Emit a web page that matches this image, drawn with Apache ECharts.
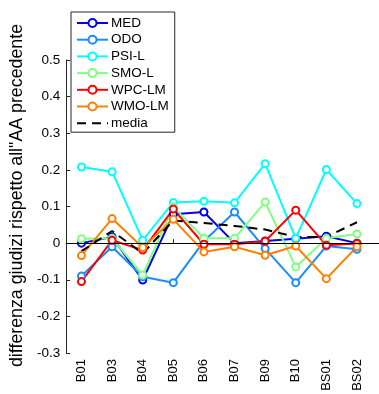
<!DOCTYPE html>
<html>
<head>
<meta charset="utf-8">
<script src="https://cdn.jsdelivr.net/npm/echarts@6/dist/echarts.min.js"></script>
<style>
  html, body { margin: 0; padding: 0; background: #fff; }
  #chart { width: 379px; height: 394px; }
</style>
</head>
<body>
<div id="chart"></div>
<script>
var categories = ['B01', 'B03', 'B04', 'B05', 'B06', 'B07', 'B09', 'B10', 'BS01', 'BS02'];
var seriesNames = ['MED', 'ODO', 'PSI-L', 'SMO-L', 'WPC-LM', 'WMO-LM'];
var MED   = [0.000, 0.017, -0.101, 0.079, 0.085, 0.000, 0.006, 0.012, 0.019, 0.000];
var ODO   = [-0.090, -0.010, -0.092, -0.108, 0.005, 0.085, -0.015, -0.108, -0.008, -0.017];
var PSI_L = [0.208, 0.195, 0.008, 0.111, 0.114, 0.110, 0.217, 0.013, 0.201, 0.108];
var SMO_L = [0.012, 0.013, -0.087, 0.099, 0.013, 0.013, 0.112, -0.065, 0.013, 0.025];
var WPC_LM = [-0.105, 0.008, -0.019, 0.093, -0.003, -0.003, 0.005, 0.090, -0.006, -0.001];
var WMO_LM = [-0.034, 0.067, -0.012, 0.065, -0.024, -0.010, -0.033, -0.008, -0.097, -0.010];
var media = [-0.022, 0.033, -0.028, 0.062, 0.055, 0.047, 0.037, 0.017, 0.017, 0.057];
var colors = ['#0000f0', '#1a8cff', '#00ffff', '#80ff80', '#ff0000', '#ff8000'];
var tickPos = categories.map(function (c, i) { return i + 1; });

var myChart = echarts.init(document.getElementById('chart'));

function pts(arr) {
    return arr.map(function (v, i) { return [i + 1, v]; });
}

var values = [MED, ODO, PSI_L, SMO_L, WPC_LM, WMO_LM];
var series = values.map(function (arr, k) {
    return {
        name: seriesNames[k],
        type: 'line',
        data: pts(arr),
        symbol: 'emptyCircle',
        symbolSize: 7,
        showSymbol: true,
        lineStyle: { width: 2, color: colors[k] },
        itemStyle: { color: colors[k], borderWidth: 1.6 }
    };
});
// linea dello zero
series[0].markLine = {
    silent: true,
    symbol: 'none',
    label: { show: false },
    lineStyle: { color: '#000', width: 1, type: 'solid' },
    data: [{ yAxis: 0 }]
};
series.push({
    name: 'media',
    type: 'line',
    data: pts(media),
    symbol: 'none',
    itemStyle: { color: '#000' },
    lineStyle: { width: 2, color: '#000', type: [9, 6] }
});

var legendData = seriesNames.map(function (n) { return { name: n }; });
legendData.push({ name: 'media', itemStyle: { opacity: 0 } });

var option = {
    animation: false,
    grid: { left: 62, right: 0, top: 60, bottom: 41 },
    legend: {
        orient: 'vertical',
        left: 71,
        top: 12,
        padding: [3, 6, 1, 5],
        itemWidth: 31,
        itemHeight: 10,
        itemGap: 0.7,
        backgroundColor: '#fff',
        borderColor: '#262626',
        borderWidth: 1,
        textStyle: { fontFamily: 'Liberation Sans', fontSize: 13.5, lineHeight: 16, color: '#000', padding: [0, 0, 0, -2] },
        data: legendData
    },
    xAxis: {
        type: 'value',
        min: 0.5,
        max: 10.72,
        splitLine: { show: false },
        axisLine: { show: true, lineStyle: { color: '#262626', width: 1 } },
        axisTick: { show: true, inside: true, length: 4, customValues: tickPos, lineStyle: { color: '#262626' } },
        axisLabel: {
            customValues: tickPos,
            rotate: 90,
            margin: 6,
            fontFamily: 'Liberation Sans',
            fontSize: 13,
            color: '#000',
            formatter: function (v) { return categories[Math.round(v) - 1] || ''; }
        }
    },
    yAxis: {
        type: 'value',
        min: -0.3,
        max: 0.5,
        interval: 0.1,
        name: 'differenza giudizi rispetto all"AA precedente',
        nameLocation: 'middle',
        nameGap: 40,
        nameTextStyle: { fontFamily: 'Liberation Sans', fontSize: 17.8, color: '#000', padding: [0, 0, 0, 22] },
        splitLine: { show: false },
        axisLine: { show: true, lineStyle: { color: '#262626', width: 1 } },
        axisTick: { show: true, inside: true, length: 4, lineStyle: { color: '#262626' } },
        axisLabel: {
            margin: 6,
            fontFamily: 'Liberation Sans',
            fontSize: 13.5,
            color: '#000',
            formatter: function (v) {
                var r = Math.round(v * 10) / 10;
                return r === 0 ? '0' : r.toFixed(1);
            }
        }
    },
    series: series
};

myChart.setOption(option);
</script>
</body>
</html>
